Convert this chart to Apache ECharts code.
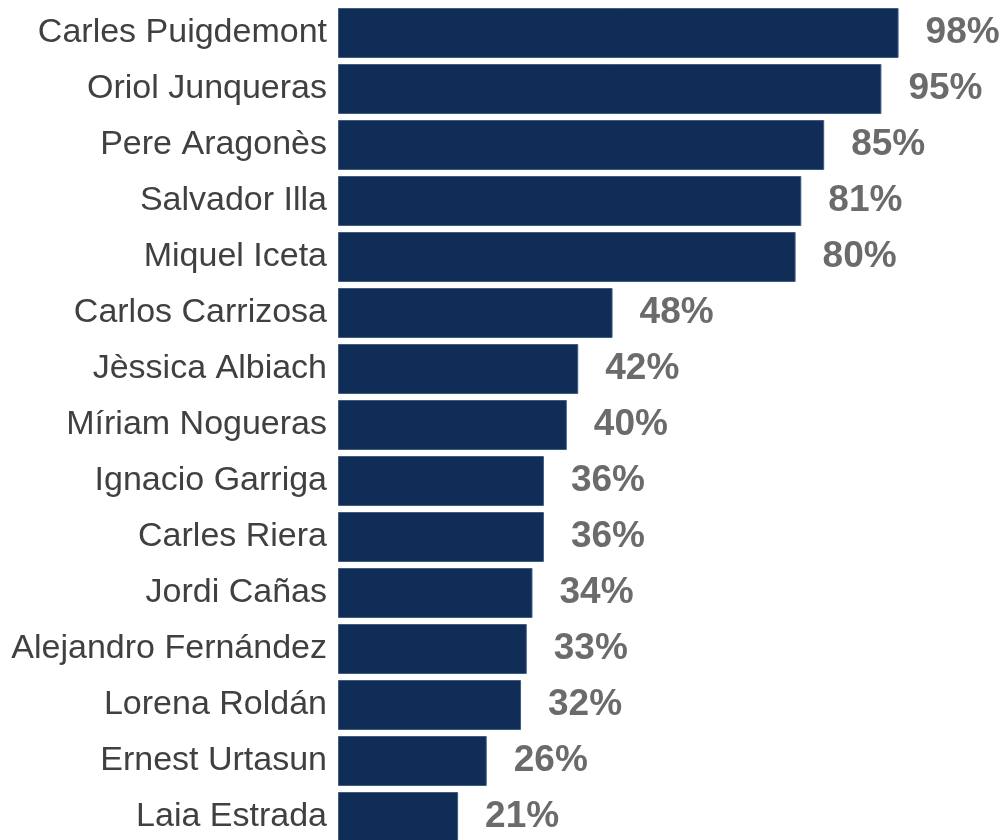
<!DOCTYPE html>
<html>
<head>
<meta charset="utf-8">
<script src="https://cdn.jsdelivr.net/npm/echarts@6/dist/echarts.min.js"></script>
<style>
  html, body { margin: 0; padding: 0; background: #fff; }
  #chart { width: 1005px; height: 840px; }
</style>
</head>
<body>
<div id="chart"></div>
<script>
const names = [
  'Carles Puigdemont', 'Oriol Junqueras', 'Pere Aragonès', 'Salvador Illa',
  'Miquel Iceta', 'Carlos Carrizosa', 'Jèssica Albiach', 'Míriam Nogueras',
  'Ignacio Garriga', 'Carles Riera', 'Jordi Cañas', 'Alejandro Fernández',
  'Lorena Roldán', 'Ernest Urtasun', 'Laia Estrada'
]
const scores = [98, 95, 85, 81, 80, 48, 42, 40, 36, 36, 34, 33, 32, 26, 21]

const myChart = echarts.init(document.getElementById('chart'))
const option = {
  animation: false,
  grid: {
    left: 338,
    right: 95,
    top: 5,
    bottom: -5,
    outerBoundsMode: 'none'
  },
  xAxis: {
    type: 'value',
    min: 0,
    max: 100,
    show: false
  },
  yAxis: {
    type: 'category',
    data: names,
    inverse: true,
    axisLine: { show: false },
    axisTick: { show: false },
    axisLabel: {
      margin: 11,
      color: '#404040',
      fontSize: 34,
      fontFamily: 'Liberation Sans, Arial, sans-serif'
    }
  },
  series: [
    {
      type: 'bar',
      data: scores,
      barWidth: 50,
      itemStyle: {
        color: '#0f2d57',
        borderColor: '#3f5c85',
        borderWidth: 1
      },
      label: {
        show: true,
        position: 'right',
        distance: 27,
        formatter: '{c}%',
        color: '#6b6b6b',
        fontSize: 37,
        fontWeight: 'bold',
        fontFamily: 'Liberation Sans, Arial, sans-serif'
      }
    }
  ]
}
myChart.setOption(option)
</script>
</body>
</html>
